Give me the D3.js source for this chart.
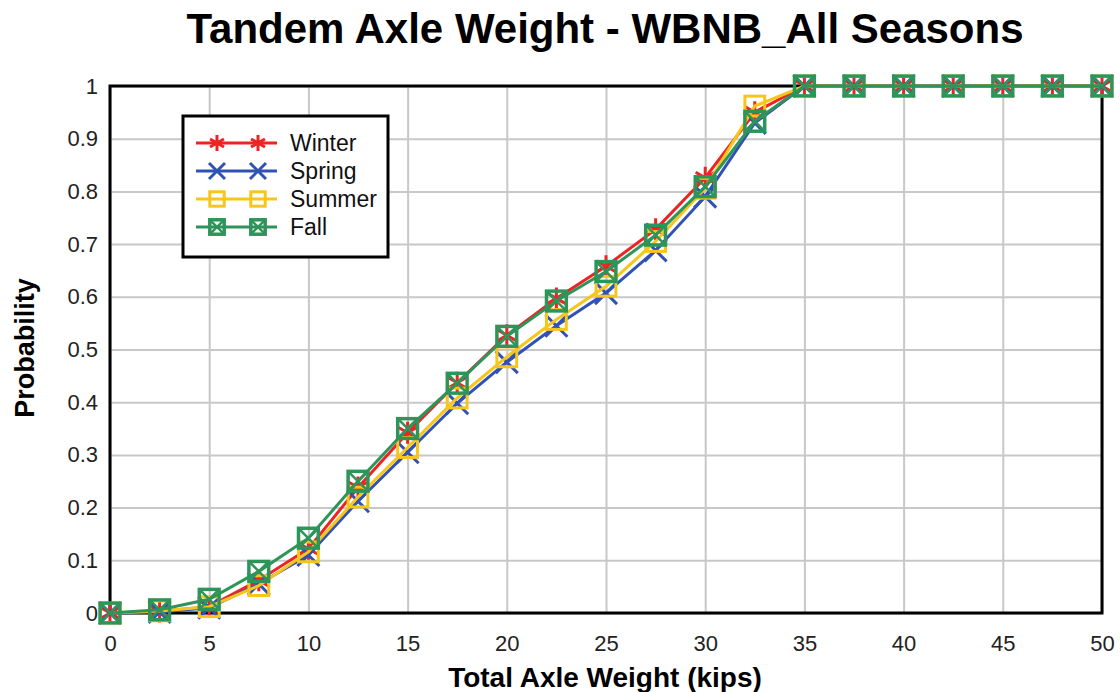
<!DOCTYPE html>
<html>
<head>
<meta charset="utf-8">
<script src="https://cdn.jsdelivr.net/npm/d3@7"></script>
<style>
  body { margin: 0; background: #fff; }
  svg text { font-family: "Liberation Sans", Arial, sans-serif; }
</style>
</head>
<body>
<div class="viz"></div>
<script>
// data
var weights = [0, 2.5, 5, 7.5, 10, 12.5, 15, 17.5, 20, 22.5, 25, 27.5, 30, 32.5, 35, 37.5, 40, 42.5, 45, 47.5, 50];
var winter = [0, 0.003, 0.012, 0.062, 0.122, 0.238, 0.342, 0.437, 0.527, 0.597, 0.658, 0.728, 0.826, 0.95, 1, 1, 1, 1, 1, 1, 1];
var spring = [0, 0.002, 0.010, 0.055, 0.110, 0.212, 0.305, 0.398, 0.476, 0.545, 0.607, 0.688, 0.790, 0.93, 1, 1, 1, 1, 1, 1, 1];
var summer = [0, 0.004, 0.012, 0.052, 0.116, 0.220, 0.314, 0.408, 0.486, 0.557, 0.620, 0.705, 0.806, 0.962, 1, 1, 1, 1, 1, 1, 1];
var fall   = [0, 0.006, 0.026, 0.079, 0.142, 0.250, 0.350, 0.436, 0.525, 0.592, 0.648, 0.717, 0.809, 0.933, 1, 1, 1, 1, 1, 1, 1];
var seasons = ["Winter", "Spring", "Summer", "Fall"];
var xTicks = [0, 5, 10, 15, 20, 25, 30, 35, 40, 45, 50];
var yTicks = [0, 0.1, 0.2, 0.3, 0.4, 0.5, 0.6, 0.7, 0.8, 0.9, 1];

// dimensions
var margin = { top: 86, right: 18, bottom: 79, left: 110 };
var width = 1120 - margin.left - margin.right;
var height = 692 - margin.top - margin.bottom;

var colorScale = d3.scaleOrdinal()
    .domain(seasons)
    .range(["#ee2424", "#3052b4", "#f7c61a", "#2e955a"]);

var series = [winter, spring, summer, fall].map(function(vals, i) {
    return { name: seasons[i], values: vals.map(function(v, j) { return { x: weights[j], y: v }; }) };
});

var xScale = d3.scaleLinear().domain([0, 50]).range([0, width]);
var yScale = d3.scaleLinear().domain([0, 1]).range([height, 0]);

var svg = d3.select(".viz")
    .append("svg")
    .attr("width", 1120)
    .attr("height", 692);

var g = svg.append("g")
    .attr("transform", "translate(" + margin.left + "," + margin.top + ")");

// grid
g.append("g")
    .call(d3.axisBottom(xScale).tickValues(xTicks).tickSize(height).tickFormat(""))
    .call(function(s) { s.select(".domain").remove(); })
    .selectAll("line").attr("stroke", "#c8c8c8").attr("stroke-width", 2);

g.append("g")
    .call(d3.axisLeft(yScale).tickValues(yTicks).tickSize(-width).tickFormat(""))
    .call(function(s) { s.select(".domain").remove(); })
    .selectAll("line").attr("stroke", "#c8c8c8").attr("stroke-width", 2);

// frame
g.append("rect")
    .attr("x", 0).attr("y", 0)
    .attr("width", width).attr("height", height)
    .attr("fill", "none").attr("stroke", "#000").attr("stroke-width", 3);

// tick labels
var tickFont = "'Liberation Sans Narrow', 'Liberation Sans', Arial, sans-serif";
var xAxis = g.append("g")
    .attr("transform", "translate(0," + height + ")")
    .call(d3.axisBottom(xScale).tickValues(xTicks).tickSize(0).tickPadding(22));
xAxis.select(".domain").remove();
xAxis.selectAll("text").attr("font-size", 22).attr("fill", "#222").attr("font-family", tickFont);

var yAxis = g.append("g")
    .call(d3.axisLeft(yScale).tickValues(yTicks).tickSize(0).tickPadding(12).tickFormat(d3.format("~g")));
yAxis.select(".domain").remove();
yAxis.selectAll("text").attr("font-size", 22).attr("fill", "#222").attr("font-family", tickFont);

// marker shapes
function drawMarker(sel, name, s) {
    var c = colorScale(name);
    if (name === "Winter") {
        var a = s * 0.5;
        sel.append("path")
            .attr("d", "M0," + (-a) + "L0," + a +
                "M" + (-a * 0.87) + "," + (-a * 0.5) + "L" + (a * 0.87) + "," + (a * 0.5) +
                "M" + (-a * 0.87) + "," + (a * 0.5) + "L" + (a * 0.87) + "," + (-a * 0.5))
            .attr("stroke", c).attr("stroke-width", 3).attr("fill", "none");
    } else if (name === "Spring") {
        var b = s * 0.5;
        sel.append("path")
            .attr("d", "M" + (-b) + "," + (-b) + "L" + b + "," + b + "M" + (-b) + "," + b + "L" + b + "," + (-b))
            .attr("stroke", c).attr("stroke-width", 3).attr("fill", "none");
    } else if (name === "Summer") {
        var h = s * 0.45;
        sel.append("rect")
            .attr("x", -h).attr("y", -h).attr("width", 2 * h).attr("height", 2 * h)
            .attr("stroke", c).attr("stroke-width", 3).attr("fill", "none");
    } else {
        var k = s * 0.45;
        sel.append("rect")
            .attr("x", -k).attr("y", -k).attr("width", 2 * k).attr("height", 2 * k)
            .attr("stroke", c).attr("stroke-width", 3.5).attr("fill", "none");
        sel.append("path")
            .attr("d", "M" + (-k) + "," + (-k) + "L" + k + "," + k + "M" + (-k) + "," + k + "L" + k + "," + (-k))
            .attr("stroke", c).attr("stroke-width", 2.5);
    }
}

var line = d3.line().x(function(d) { return xScale(d.x); }).y(function(d) { return yScale(d.y); });

series.forEach(function(s) {
    var sg = g.append("g").attr("class", "series");
    sg.append("path")
        .datum(s.values)
        .attr("d", line)
        .attr("fill", "none")
        .attr("stroke", colorScale(s.name))
        .attr("stroke-width", 3);
    sg.selectAll("g.mark")
        .data(s.values)
        .enter()
        .append("g")
        .attr("class", "mark")
        .attr("transform", function(d) { return "translate(" + xScale(d.x) + "," + yScale(d.y) + ")"; })
        .each(function() { drawMarker(d3.select(this), s.name, 22); });
});

// legend
var legend = svg.append("g").attr("transform", "translate(183,116)");
legend.append("rect")
    .attr("width", 205).attr("height", 141)
    .attr("fill", "#fff").attr("stroke", "#000").attr("stroke-width", 3);

var items = legend.selectAll("g.item")
    .data(seasons)
    .enter()
    .append("g")
    .attr("class", "item")
    .attr("transform", function(d, i) { return "translate(0," + (27 + i * 28) + ")"; });

items.append("line")
    .attr("x1", 13).attr("x2", 94)
    .attr("stroke", function(d) { return colorScale(d); })
    .attr("stroke-width", 3);
items.each(function(d) {
    var it = d3.select(this);
    drawMarker(it.append("g").attr("transform", "translate(34,0)"), d, 16);
    drawMarker(it.append("g").attr("transform", "translate(75,0)"), d, 16);
});
items.append("text")
    .attr("x", 107).attr("dy", "0.36em")
    .attr("font-size", 23)
    .attr("fill", "#111")
    .text(function(d) { return d; });

// titles
svg.append("text")
    .attr("x", 605).attr("y", 43)
    .attr("text-anchor", "middle")
    .attr("font-size", 42).attr("font-weight", "bold")
    .text("Tandem Axle Weight - WBNB_All Seasons");

svg.append("text")
    .attr("x", 605).attr("y", 687)
    .attr("text-anchor", "middle")
    .attr("font-size", 28).attr("font-weight", "bold")
    .text("Total Axle Weight (kips)");

svg.append("text")
    .attr("transform", "translate(34,348) rotate(-90)")
    .attr("text-anchor", "middle")
    .attr("font-size", 27).attr("font-weight", "bold")
    .text("Probability");
</script>
</body>
</html>
